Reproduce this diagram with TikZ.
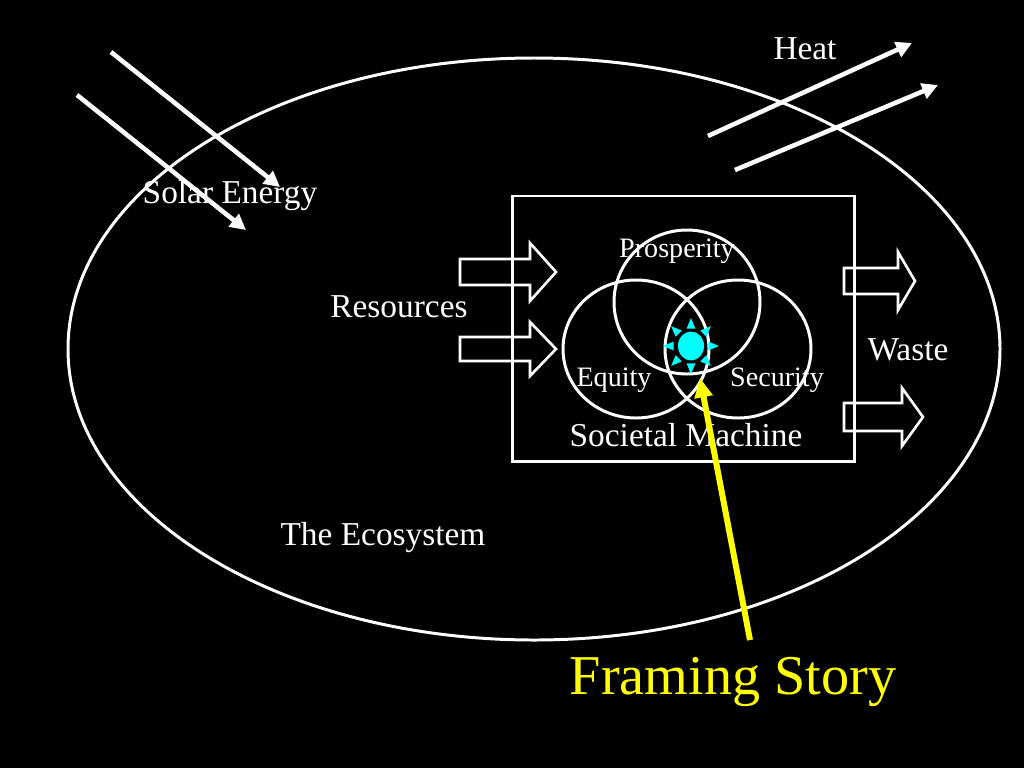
\documentclass[tikz,border=0pt]{standalone}
\usepackage{fontspec}
\setmainfont{Liberation Serif}
\usetikzlibrary{arrows.meta, shapes.geometric}
\definecolor{suncyan}{RGB}{0,255,255}
\definecolor{storyyellow}{RGB}{255,255,0}
\tikzset{
  beam/.style={white, line width=2.6pt, -{Triangle[length=9pt,width=9pt]}},
  outline/.style={white, line width=1.7pt},
  blockline/.style={white, line width=1.5pt, line join=miter},
  lbl/.style={text=white, font=\fontsize{19}{22}\selectfont},
  small/.style={text=white, font=\fontsize{16}{18}\selectfont},
  framing/.style={storyyellow, line width=3.4pt, -{Triangle[length=11pt,width=10pt]}},
}
\newcommand{\blockarrow}[6]{ % #1: x start, #2: y centre, #3: body end, #4: tip x, #5: body half height, #6: head half height
  \draw[blockline] (#1,#2-#5) -- (#3,#2-#5) -- (#3,#2-#6) -- (#4,#2) -- (#3,#2+#6) -- (#3,#2+#5) -- (#1,#2+#5) -- cycle;
}
\begin{document}
\begin{tikzpicture}[x=0.02cm, y=-0.02cm]

% Background
\fill[black] (0,0) rectangle (1024,768);
\useasboundingbox (0,0) rectangle (1024,768);

% The ecosystem and the machine inside it
\draw[outline] (534,349) ellipse [x radius=466, y radius=291];
\draw[outline] (512,196) rectangle (854,461);

% Venn circles
\draw[outline] (687,302) ellipse [x radius=73, y radius=72];
\draw[outline] (636,349) ellipse [x radius=73, y radius=69];
\draw[outline] (738,349) ellipse [x radius=73, y radius=69];

% Sun in the middle
\node[ellipse, fill=suncyan, minimum width=0.52cm, minimum height=0.58cm, inner sep=0pt] (sun) at (691,346) {};
\foreach \a in {0,45,...,315}
{
    \fill[suncyan] ([shift={(\a:28)}]sun.center) -- ([shift={(\a+14:18)}]sun.center) -- ([shift={(\a-14:18)}]sun.center) -- cycle;
}

% Solar energy coming in
\coordinate (sunA) at (111,52);
\coordinate (sunB) at (77,95);
\coordinate (inA) at (280,187);
\coordinate (inB) at (246,230);
\draw[beam] (sunA) -- (inA);
\draw[beam] (sunB) -- (inB);

% Heat going out
\coordinate (hotA) at (708,136);
\coordinate (hotB) at (735,170);
\coordinate (outA) at (912,43);
\coordinate (outB) at (938,85);
\draw[beam] (hotA) -- (outA);
\draw[beam] (hotB) -- (outB);

% Resources in, waste out
\blockarrow{460}{272}{530}{556}{13}{29}
\blockarrow{460}{349}{530}{556}{12}{27}
\blockarrow{844}{281}{898}{915}{13}{29}
\blockarrow{844}{417}{902}{923}{14}{29}

% Labels
\node[lbl] (heat) at (805,49) {Heat};
\node[lbl] (solar) at (230,196) {Solar Energy};
\node[lbl] (resources) at (399,307) {Resources};
\node[lbl] (waste) at (908,350) {Waste};
\node[lbl] (ecosystem) at (383,538) {The Ecosystem};
\node[lbl] (machine) at (686,435) {Societal Machine};
\node[small] (prosperity) at (677,251) {Prosperity};
\node[small] (equity) at (614,380) {Equity};
\node[small] (security) at (777,380) {Security};

% Framing story
\node[text=storyyellow, font=\fontsize{32}{36}\selectfont] (story) at (733,682) {Framing Story};
\coordinate (storytop) at (750,640);
\coordinate (aim) at (700,378);
\draw[framing] (storytop) -- (aim);

\end{tikzpicture}
\end{document}
